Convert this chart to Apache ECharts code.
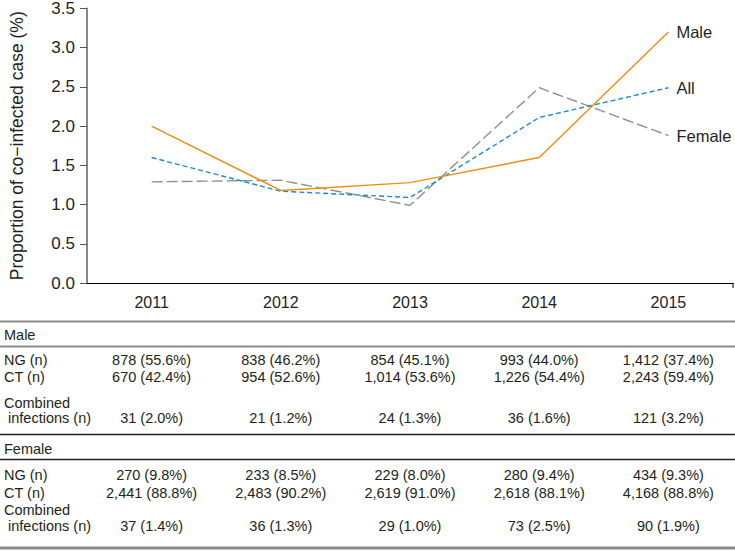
<!DOCTYPE html>
<html>
<head>
<meta charset="utf-8">
<script src="https://cdn.jsdelivr.net/npm/echarts@6/dist/echarts.min.js"></script>
<style>
  html, body { margin: 0; padding: 0; background: #fff; }
  #chart { width: 735px; height: 552px; }
</style>
</head>
<body>
<div id="chart"></div>
<script>
// chart data
const years = ['2011', '2012', '2013', '2014', '2015']
const maleRate = [2.0, 1.18, 1.28, 1.6, 3.2]
const allRate = [1.6, 1.17, 1.09, 2.11, 2.49]
const femaleRate = [1.29, 1.31, 0.99, 2.49, 1.88]

// table data
const rowLabels = ['NG (n)', 'CT (n)', 'Combined', ' infections (n)']
const maleNG = ['878 (55.6%)', '838 (46.2%)', '854 (45.1%)', '993 (44.0%)', '1,412 (37.4%)']
const maleCT = ['670 (42.4%)', '954 (52.6%)', '1,014 (53.6%)', '1,226 (54.4%)', '2,243 (59.4%)']
const maleComb = ['31 (2.0%)', '21 (1.2%)', '24 (1.3%)', '36 (1.6%)', '121 (3.2%)']
const femaleNG = ['270 (9.8%)', '233 (8.5%)', '229 (8.0%)', '280 (9.4%)', '434 (9.3%)']
const femaleCT = ['2,441 (88.8%)', '2,483 (90.2%)', '2,619 (91.0%)', '2,618 (88.1%)', '4,168 (88.8%)']
const femaleComb = ['37 (1.4%)', '36 (1.3%)', '29 (1.0%)', '73 (2.5%)', '90 (1.9%)']

const FONT = 'Liberation Sans, Arial, sans-serif'
const TXT = '#231f20'

const chart = echarts.init(document.getElementById('chart'), undefined, { renderer: 'svg' })

const lineSeries = (name, data, color, type, dash) => ({
  name: name,
  type: 'line',
  data: data,
  symbol: 'none',
  lineStyle: { color: color, width: 1.4, type: type === 'solid' ? 'solid' : dash },
  endLabel: {
    show: true,
    formatter: '{a}',
    color: TXT,
    fontSize: 16.5,
    fontFamily: FONT,
    distance: 8
  },
  silent: true
})

chart.setOption({
  animation: false,
  textStyle: { fontFamily: FONT },
  grid: { left: 74, right: 2, top: 8, bottom: 269 },
  xAxis: {
    type: 'category',
    data: years,
    boundaryGap: true,
    axisLine: { lineStyle: { color: '#000', width: 1 } },
    axisTick: { alignWithLabel: true, length: 5, lineStyle: { color: '#000' } },
    axisLabel: { color: TXT, fontSize: 16, margin: 11, fontFamily: FONT }
  },
  yAxis: {
    type: 'value',
    min: 0,
    max: 3.5,
    interval: 0.5,
    name: 'Proportion of co\u2212infected case (%)',
    nameLocation: 'middle',
    nameGap: 61,
    nameTextStyle: { color: TXT, fontSize: 17.5, fontFamily: FONT },
    axisLine: { show: true, lineStyle: { color: '#888', width: 2 } },
    axisTick: { show: true, length: 7, lineStyle: { color: '#555' } },
    axisLabel: {
      color: TXT, fontSize: 17, margin: 12, fontFamily: FONT,
      formatter: v => v.toFixed(1)
    },
    splitLine: { show: false }
  },
  series: [
    lineSeries('Female', femaleRate, '#8f8f8f', 'dashed', [11, 4]),
    lineSeries('All', allRate, '#1a8ad6', 'dashed', [5, 3]),
    lineSeries('Male', maleRate, '#f28c0f', 'solid')
  ]
})

// table below the chart, column centres follow the x axis categories
const colX = years.map(y => chart.convertToPixel({ xAxisIndex: 0 }, y))
const graphics = []

function hline(y, color, w) {
  graphics.push({
    type: 'line',
    shape: { x1: 0, y1: y, x2: 735, y2: y },
    style: { stroke: color, lineWidth: w },
    silent: true
  })
}
function txt(x, y, s, align) {
  graphics.push({
    type: 'text',
    x: x, y: y,
    style: {
      text: s, fill: TXT, font: '14.5px ' + FONT,
      textAlign: align, textVerticalAlign: 'middle'
    },
    silent: true
  })
}
// rowY: y of NG, CT, Combined, infections rows
function block(title, titleY, rowY, rows) {
  txt(4, titleY, title, 'left')
  rowLabels.forEach((s, i) => txt(4, rowY[i], s, 'left'))
  const valY = [rowY[0], rowY[1], rowY[3]]
  rows.forEach((vals, i) => {
    vals.forEach((v, j) => txt(colX[j], valY[i], v, 'center'))
  })
}

// right end tick of the x axis
graphics.push({
  type: 'line',
  shape: { x1: 733, y1: 283, x2: 733, y2: 288 },
  style: { stroke: '#000', lineWidth: 1 },
  silent: true
})

hline(321.5, '#8a8a8a', 2)
hline(346.5, '#8a8a8a', 2)
hline(434.5, '#231f20', 1.5)
hline(459.5, '#231f20', 1.5)
hline(548, '#8a8a8a', 3)

block('Male', 335, [360, 377, 403, 418], [maleNG, maleCT, maleComb])
block('Female', 449, [475, 493, 510, 526], [femaleNG, femaleCT, femaleComb])

chart.setOption({ graphic: graphics })
</script>
</body>
</html>
